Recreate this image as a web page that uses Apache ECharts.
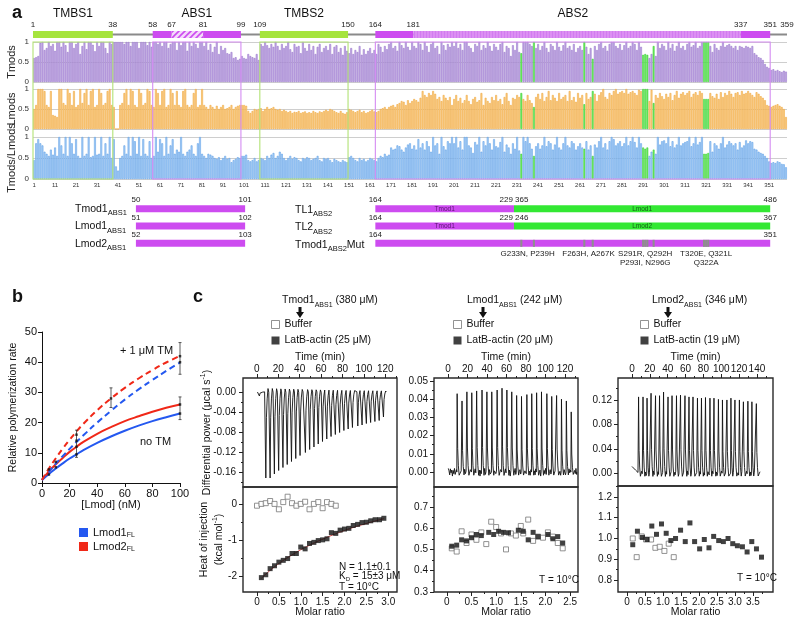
<!DOCTYPE html>
<html><head><meta charset="utf-8">
<script src="https://cdn.jsdelivr.net/npm/echarts@6/dist/echarts.min.js"></script>
<style>html,body{margin:0;padding:0;background:#fff}#chart{width:800px;height:624px}</style>
</head><body><div id="chart"></div>
<script>
// ---------------- Panel a data ----------------
const residues = Array.from({length: 359}, (_, i) => i + 1);
const tmods = [
.6,.62,.65,.98,1,.8,.85,1,.9,.95,.78,1,1,.88,1,.92,.75,1,1,.85,
.95,1,.7,.9,1,.82,1,1,.93,.77,1,.9,1,1,.85,.72,1,.95,1,1,
1,1,1,.95,1,1,.9,1,1,1,.85,1,1,1,.92,1,.88,1,1,.95,
1,.9,1,1,.85,.95,1,1,.8,1,.92,1,1,.78,1,.9,1,.95,.85,1,
1,.9,1,.8,.95,.75,.88,1,.7,.9,.8,.85,.72,.7,.75,.6,.62,.55,.58,.65,
.6,.58,.7,.65,.62,.6,.7,.55,.95,.9,1,.92,.85,.95,.88,1,.9,.8,.95,.85,
.9,1,.82,.75,.95,.88,.9,.72,1,.85,.78,.95,.8,.9,.7,.88,.95,.75,.85,.9,
.8,.95,.7,.88,.92,.75,.85,.68,.9,.78,.72,.85,.7,.8,.75,.9,.68,.82,.7,.78,
.85,.72,.8,.7,.95,.88,.75,.9,.82,.95,1,.85,.9,.78,1,.92,.85,1,.88,.8,
1,.9,.85,1,.95,.8,1,.9,.75,.95,1,.85,.9,.7,1,.92,.8,.95,.88,1,
.9,1,.85,.95,.8,1,1,.9,.85,.75,.95,.9,1,.8,.92,.85,1,.9,.78,.95,
.88,.8,.95,1,.75,.9,.85,.65,.92,.8,1,.75,.72,1,1,1,.95,.9,1,.85,
.95,.8,.9,1,.85,.75,.95,.9,.8,1,.88,.78,.92,1,.85,.9,.8,.95,.75,.85,
.9,.8,1,.88,.7,.85,.58,.9,.8,.95,1,.85,.9,.78,.95,1,1,.9,.85,.95,
.8,.92,1,.85,.9,1,.95,.8,1,.88,.68,.7,.68,.6,.7,.9,.65,1,.85,.95,
.9,.8,1,.85,.95,.78,.9,1,.85,.9,.8,.95,1,.88,.92,1,.85,.9,1,1,
1,1,.9,.75,.95,.85,.8,.9,1,.88,.92,.95,.9,.85,.9,.8,.9,.88,.85,.9,
.88,.85,.9,.72,.68,.62,.6,.55,.45,.38,.35,.3,.32,.28,.3,.27,.25,.28,.26];
const lmods = [
.5,.6,1,1,1,.95,.6,.55,.95,.35,.33,.3,1,1,.65,.6,1,.9,.6,.95,
.55,.6,1,.65,.9,1,.6,.95,1,.55,.6,1,.9,.6,.65,.95,1,.6,.55,0,
0,.6,.65,.9,1,.6,1,.95,.6,.55,1,.9,.6,.65,1,.95,.6,.55,1,.9,
.6,.95,1,.55,.6,1,.9,.6,.95,.6,.55,.95,1,.6,.55,.6,.9,1,.55,.6,
1,.6,.55,.5,.6,.55,.5,.58,.5,.55,.6,.5,.52,.55,.6,.5,.55,.58,.6,.6,
.6,.58,.45,.4,.45,.5,.48,.5,.52,.45,.5,.55,.5,.52,.55,.5,.48,.5,.45,.48,
.45,.42,.45,.4,.43,.42,.45,.4,.42,.44,.4,.42,.4,.45,.42,.4,.44,.42,.45,.48,
.45,.5,.48,.45,.42,.4,.45,.4,.38,.42,.5,.48,.45,.42,.45,.48,.42,.45,.4,.42,
.45,.48,.44,.42,.45,.5,.52,.55,.5,.55,.58,.6,.55,.62,.65,.7,.68,.6,.72,.65,
.7,.75,.72,.68,.78,.95,.85,.8,.9,.85,.95,.88,.75,.8,.7,.85,.78,.72,.8,.6,
.75,.85,.7,.78,.65,.72,.85,.7,.62,.75,.8,.68,.72,.9,.6,.78,.7,.65,.8,.72,
.85,.7,.75,.62,.8,.9,.7,.6,.78,.75,.85,.8,.9,.75,.7,.85,.72,.65,.55,.8,
.88,.75,.9,.7,.8,.95,.72,.85,.78,.7,.9,.75,.8,.85,.7,.95,.72,.8,.68,.9,
.78,.85,.62,.9,.75,.8,.95,.88,.7,.85,.92,1,.8,.75,.9,.85,.95,1,.88,.92,
.95,.9,1,.88,.92,.95,.9,.85,.98,.95,1,1,1,.7,.98,.65,.85,.78,.9,.82,
.75,.88,.8,.9,.72,.85,.95,.78,.88,.92,.85,.9,.95,.8,.88,.92,.85,.95,.9,.75,
.75,.75,.9,.82,.78,.88,.75,.92,.8,.9,.85,.95,.88,.8,.9,.92,.85,.95,.88,.9,
.95,.9,.85,.8,.92,.88,.82,.78,.72,.6,.58,.55,.58,.6,.62,.58,.55,.5,.3];
const tmodsOverLmods = [
.45,.85,.95,.85,.8,.65,.6,.55,.7,.58,.75,.55,1,.8,.6,1,.55,1,.85,.6,
.95,.55,.5,1,.55,.6,1,.52,.55,1,.58,.6,1,.55,.85,.6,1,.5,.95,.3,
.2,.5,.55,.8,.6,1,.55,1,.9,.6,1,.55,.95,.6,.55,.9,.5,.55,1,.65,
.95,.85,.55,1,.6,.8,.95,.6,.7,.65,1,.6,.55,.65,.7,.8,.6,.55,.85,1,
.6,.55,.5,.6,.58,.55,.5,.48,.52,.45,.5,.55,.48,.5,.4,.45,.48,.52,.5,.55,
.55,.58,.45,.42,.45,.5,.42,.45,.5,.48,.45,.55,.5,.58,.62,.5,.55,.65,.6,.5,
.45,.5,.55,.48,.52,.5,.45,.42,.5,.48,.52,.5,.45,.48,.5,.55,.45,.42,.5,.48,
.5,.45,.4,.48,.45,.42,.4,.45,.42,.4,.52,.55,.5,.45,.42,.5,.45,.48,.42,.45,
.5,.48,.45,.42,.5,.55,.52,.6,.55,.58,.75,.7,.72,.8,.78,.7,.65,.75,.82,.85,
.72,.8,.7,.95,.75,.85,.7,.9,.78,.65,1,.8,.85,.6,1,.78,.7,.9,.85,1,
.85,1,.75,.9,.7,1,1,.8,.75,.62,.88,.82,1,.65,.9,.8,1,.85,.7,.95,
.78,.75,.88,1,.65,.82,.75,.6,.85,.72,1,.68,.6,1,.9,1,.85,.72,.55,.78,
.85,.72,.8,1,.78,.9,.85,.7,.82,1,.75,.7,.85,1,.8,.75,.9,.85,.7,.78,
.85,.75,.72,.9,.7,.8,.55,.82,.75,.9,1,.75,.85,.7,.9,1,.95,.8,.85,.9,
.78,.85,1,.8,.9,1,.88,.75,1,.85,.75,.72,.75,.55,.65,.7,.6,1,.82,.9,
.92,.85,1,.78,.9,.75,.82,1,.8,.85,.88,.9,1,.78,.85,1,.82,.88,1,.6,
.6,.62,.9,.65,.85,.8,.72,.85,1,.75,.82,.9,.85,.8,.85,.7,.88,.75,.8,.92,
.85,.9,.88,.72,.7,.65,.62,.6,.55,.5,.42,.38,.4,.38,.42,.4,.36,.35,.28];
const mutatedResidues = [233,239,263,267,291,292,293,296,320,321,322];

const proteinLength = 359;
const domainNames = ['TMBS1','ABS1','TMBS2','ABS2'];
const domainStart = [1,58,109,164];
const domainEnd = [38,99,150,351];
const domainKind = ['tmbs','abs','tmbs','abs'];
const hatchRange = [67,81];
const lightRange = [182,337];
const boundaryLabels = [1,38,58,67,81,99,109,150,164,181,337,351,359];
const boundaryIsStart = [1,0,1,1,0,0,1,0,1,0,0,0,0];

const leftConstructNames = ['Tmod1','Lmod1','Lmod2'];
const leftConstructStart = [50,51,52];
const leftConstructEnd = [101,102,103];
const leftAlignRange = [50,101];
const rightConstructNames = ['TL1','TL2','Tmod1'];
const rightConstructSuffix = ['','','Mut'];
const abs2Range = [164,351];
const chimeraJunction = 229;
const chimeraPartner = ['Lmod1','Lmod2'];
const chimeraPartnerStart = [365,246];
const chimeraPartnerEnd = [486,367];
const mutationLabels = ['G233N, P239H','F263H, A267K','S291R, Q292H\nP293I, N296G','T320E, Q321L\nQ322A'];
const mutationLabelCenter = [236,265,292,321];

// ---------------- Panel b data ----------------
const lmodConc = [0,5,10,15,20,25,30,40,50,60,70,80,90,100];
const lmod1NoTM = [1,3.0,4.8,6.5,8.1,9.5,10.9,13.3,15.4,17.3,19.0,20.5,21.8,23.0];
const lmod2NoTM = [1,3.8,6.2,8.3,10.3,12.0,13.6,16.3,18.5,20.5,22.1,23.6,24.9,26.0];
const lmod1TM = [1,3.7,6.4,8.9,11.3,13.6,15.8,20.0,23.9,27.6,31.0,34.1,37.1,39.9];
const lmod2TM = [1,4.8,8.2,11.4,14.3,17.1,19.6,24.1,28.0,31.5,34.6,37.4,39.9,42.1];
const pointX = [5,5,10,10,25,25,25,25,50,100,100,100,100];
const pointY = [4.5,2.8,7,5.2,16,14,12,9.5,28,42,40,26,23];
const errX = [25,50,100,100];
const errLow = [8.5,25,36,21];
const errHigh = [17.5,31.5,46.5,28.5];

// ---------------- Panel c data ----------------
const injTime1 = [2,8,12,16,20,24,28,32,36,40,45,49,53,57,61,65,69,73,77,81,85,89,94,98,102,106,110,114,118];
const injPeak1 = [-0.008,-0.172,-0.172,-0.164,-0.157,-0.151,-0.145,-0.139,-0.133,-0.127,-0.121,-0.115,-0.11,-0.104,-0.099,-0.094,-0.089,-0.085,-0.081,-0.077,-0.074,-0.071,-0.068,-0.066,-0.063,-0.061,-0.059,-0.057,-0.05];
const injTime2 = [9,14,19,24,29,34.5,39.5,44.5,50,55,60,65,70,75,80.5,85.5,90.5,95.5,101,106,111,116,121,126];
const injPeak2 = [0.043,0.039,0.044,0.0435,0.0445,0.045,0.044,0.044,0.045,0.046,0.045,0.044,0.042,0.0415,0.0425,0.043,0.0435,0.044,0.043,0.0415,0.042,0.040,0.039,0.033];
const injTime3 = [7,12,16.5,21,26,30.5,35,40,44.5,49.5,54,59,63.5,68,73,77.5,82,87,91.5,96.5,101,106,110.5,115,120,124.5,129.5,134,139];
const injPeak3 = [0.125,0.125,0.123,0.131,0.127,0.127,0.133,0.125,0.127,0.127,0.128,0.127,0.125,0.125,0.123,0.123,0.124,0.123,0.123,0.121,0.12,0.12,0.123,0.12,0.12,0.117,0.118,0.117,0.114];
const traceStart1 = [[0.5,0]];
const traceStart2 = [[0.3,0.002]];
const traceStart3 = [[0,0.011],[2,0.009],[4,0.005],[6,0.002]];
const baselineWiggle = [0.3,-0.7,0.8,-0.2,0.5,-1,0.4,-0.4,0.9,-0.6,0.1,0.6,-0.5,-0.9,0.3,0.7,-0.4,0.2,-0.8,0.6];

const heatRatio1 = [0.1,0.2,0.3,0.4,0.5,0.6,0.7,0.8,0.9,1.0,1.1,1.2,1.3,1.4,1.5,1.6,1.7,1.8,1.9,2.0,2.1,2.2,2.3,2.4,2.5,2.6,2.7,2.8,2.9];
const heatActin1 = [-2.05,-1.97,-1.8,-1.72,-1.62,-1.57,-1.52,-1.38,-1.38,-1.2,-1.25,-1.1,-1.07,-1.02,-1.0,-0.97,-0.8,-0.82,-0.73,-0.7,-0.68,-0.6,-0.57,-0.52,-0.51,-0.47,-0.44,-0.44,-0.4];
const bufRatio1 = [0,0.1,0.2,0.3,0.4,0.5,0.6,0.7,0.8,0.9,1.0,1.1,1.2,1.3,1.4,1.5,1.6,1.7,1.8];
const heatBuffer1 = [-0.05,0.0,0.02,0.08,0.0,-0.15,0.05,0.2,0.02,-0.05,0.0,0.06,-0.15,0.0,0.05,-0.12,0.05,0.0,-0.05];
const fitRatio1 = [0.1,0.4,0.8,1.2,1.6,2.0,2.4,2.9];
const fitHeat1 = [-2.07,-1.75,-1.42,-1.15,-0.93,-0.74,-0.58,-0.41];

const heatRatio2 = [0.1,0.2,0.3,0.4,0.5,0.6,0.7,0.85,0.95,1.05,1.15,1.25,1.45,1.55,1.65,1.75,1.85,2.05,2.15,2.25,2.35];
const heatActin2 = [0.515,0.52,0.545,0.54,0.555,0.57,0.565,0.58,0.57,0.585,0.58,0.578,0.59,0.585,0.545,0.58,0.56,0.57,0.55,0.56,0.53];
const bufRatio2 = [0.1,0.2,0.3,0.4,0.5,0.6,0.7,0.8,0.9,1.0,1.1,1.2,1.3,1.4,1.5,1.55,1.65,1.75,1.85,1.95,2.05,2.15,2.25,2.35];
const heatBuffer2 = [0.505,0.49,0.585,0.53,0.57,0.545,0.58,0.525,0.63,0.605,0.575,0.5,0.575,0.565,0.61,0.575,0.64,0.54,0.56,0.555,0.58,0.56,0.53,0.505];

const heatRatio3 = [0.16,0.29,0.43,0.56,0.69,0.82,0.96,1.09,1.22,1.35,1.49,1.62,1.75,1.88,2.02,2.15,2.28,2.41,2.55,2.68,2.81,2.94,3.07,3.21,3.34,3.47,3.6,3.74];
const heatActin3 = [0.97,1.035,1.005,0.995,1.06,1.02,1.07,1.025,0.99,1.0,1.04,0.985,1.075,0.985,0.95,0.995,0.955,1.01,0.99,0.985,1.0,0.975,0.965,0.96,0.935,0.985,0.95,0.91];
const bufRatio3 = [0.16,0.27,0.41,0.53,0.67,0.79,0.91,1.04,1.16,1.3];
const heatBuffer3 = [1.0,0.91,1.01,0.995,0.995,0.955,0.96,0.94,0.975,0.91];

const timeTicks1 = [0,20,40,60,80,100,120], timeMinor1 = [10,30,50,70,90,110,130];
const timeTicks3 = [0,20,40,60,80,100,120,140], timeMinor3 = [10,30,50,70,90,110,130,150];
const powerTicks1 = [0,-0.04,-0.08,-0.12,-0.16], powerMinor1 = [-0.02,-0.06,-0.1,-0.14,-0.18];
const powerTicks2 = [0,0.01,0.02,0.03,0.04,0.05], powerMinor2 = [0.005,0.015,0.025,0.035,0.045];
const powerTicks3 = [0,0.04,0.08,0.12], powerMinor3 = [0.02,0.06,0.1,0.14];
const ratioTicks1 = [0,0.5,1,1.5,2,2.5,3], ratioMinor1 = [0.25,0.75,1.25,1.75,2.25,2.75];
const ratioTicks2 = [0,0.5,1,1.5,2,2.5], ratioMinor2 = [0.25,0.75,1.25,1.75,2.25];
const ratioTicks3 = [0,0.5,1,1.5,2,2.5,3,3.5], ratioMinor3 = [0.25,0.75,1.25,1.75,2.25,2.75,3.25,3.75];
const heatTicks1 = [0,-1,-2], heatMinor1 = [-0.5,-1.5];
const heatTicks2 = [0.3,0.4,0.5,0.6,0.7], heatMinor2 = [0.35,0.45,0.55,0.65,0.75];
const heatTicks3 = [0.8,0.9,1.0,1.1,1.2], heatMinor3 = [0.85,0.95,1.05,1.15,1.25];

// ---------------- helpers ----------------
const FONT = '"Liberation Sans", Arial, Helvetica, sans-serif';
const MAG = '#cd4cf0', MAG_LIGHT = '#dc8ff3', TMBS_GREEN = '#a6e43e', CON_GREEN = '#33e833', MUT_GREY = '#8e8e8e';
const BLUE = '#2458f0', RED = '#f02818';

function makePattern(kind) {
  const c = document.createElement('canvas');
  const g = c.getContext('2d');
  if (kind === 'hatch') {
    c.width = 6; c.height = 6;
    g.fillStyle = '#f4d9fb'; g.fillRect(0, 0, 6, 6);
    g.strokeStyle = MAG; g.lineWidth = 1.6;
    g.beginPath(); g.moveTo(-1, 7); g.lineTo(7, -1); g.moveTo(-1, 1); g.lineTo(1, -1); g.moveTo(5, 7); g.lineTo(7, 5); g.stroke();
  } else {
    c.width = 3; c.height = 3;
    g.fillStyle = MAG_LIGHT; g.fillRect(0, 0, 3, 3);
    g.fillStyle = '#d27cf0'; g.fillRect(0, 0, 1, 3);
  }
  return {type: 'pattern', image: c, repeat: 'repeat'};
}
const HATCH = makePattern('hatch'), STRIPE = makePattern('stripe');

function barData(values) {
  return values.map((v, i) => mutatedResidues.indexOf(i + 1) >= 0
    ? {value: v, itemStyle: {color: '#70ee5c', borderColor: '#3fd13f'}} : v);
}

function buildTrace(startPts, times, peaks, tEnd, amp) {
  const pts = startPts.map(p => p.slice());
  let t0 = pts[pts.length - 1][0], k = 0;
  const wig = (a, b) => { for (let x = a + 0.7; x < b; x += 0.7) pts.push([x, baselineWiggle[k++ % baselineWiggle.length] * amp]); };
  times.forEach((t, i) => {
    wig(t0, t - 0.2);
    const p = peaks[i];
    pts.push([t, 0], [t + 0.35, p], [t + 0.9, p * 0.3], [t + 1.6, p * 0.08], [t + 2.4, -p * 0.04]);
    t0 = t + 2.4;
  });
  wig(t0, tEnd);
  pts.push([tEnd, 0]);
  return pts;
}
const zip = (a, b) => a.map((v, i) => [v, b[i]]);

function txt(x, y, text, o) {
  return {type: 'text', x: x, y: y, silent: true, style: Object.assign({
    text: text, fontSize: 11, fontFamily: FONT, fill: '#111',
    textAlign: 'left', textVerticalAlign: 'middle', align: 'left', verticalAlign: 'middle'}, o || {})};
}
const subRich = (m, s, lh) => ({
  m: {fontSize: m, fontFamily: FONT, fill: '#111', color: '#111', lineHeight: lh || m + 6, verticalAlign: 'middle'},
  s: {fontSize: s, fontFamily: FONT, fill: '#111', color: '#111', lineHeight: s, verticalAlign: 'bottom'}
});
const supRich = (m, s) => ({
  a: {fontSize: m, fontFamily: FONT, color: '#111', lineHeight: m + 4, verticalAlign: 'middle'},
  b: {fontSize: s, fontFamily: FONT, color: '#111', lineHeight: s, verticalAlign: 'top'}
});

// ITC axes
function itcAxes(grid, pos, min, max, major, minor, fmt, name, nameGap, margin, nameStyle) {
  const base = {gridIndex: grid, type: 'value', position: pos, min: min, max: max,
    axisLine: {show: false, onZero: false}, splitLine: {show: false}, nameMoveOverlap: false};
  return [
    Object.assign({}, base, {
      axisTick: {show: true, length: 4, lineStyle: {color: '#222', width: 1}, customValues: major},
      axisLabel: {show: true, customValues: major, formatter: fmt, fontSize: 10, color: '#111', fontFamily: FONT, margin: margin},
      name: name || '', nameLocation: 'middle', nameGap: nameGap || 15,
      nameTextStyle: nameStyle || {fontSize: 11, color: '#111', fontFamily: FONT}
    }),
    Object.assign({}, base, {
      axisTick: {show: true, length: 2, lineStyle: {color: '#222', width: 1}, customValues: minor},
      axisLabel: {show: false, customValues: minor}
    })
  ];
}
const f0 = v => String(v);
const f1 = v => v === 0 ? '0' : v.toFixed(1);
const f1b = v => v.toFixed(1);
const f2 = v => v.toFixed(2);

// ---------------- grids ----------------
const frame = {show: true, borderColor: '#2a2a2a', borderWidth: 1.4, backgroundColor: 'transparent'};
const grids = [
  {left: 33, width: 754, top: 42, height: 40},
  {left: 33, width: 754, top: 89, height: 40},
  {left: 33, width: 754, top: 137, height: 42},
  {left: 33, width: 754, top: 31, height: 7},
  {left: 33, width: 754, top: 42, height: 137},
  {left: 33, width: 754, top: 200, height: 52},
  {left: 42, width: 138, top: 332, height: 151},
  Object.assign({left: 243, width: 154, top: 378, height: 109}, frame),
  Object.assign({left: 243, width: 154, top: 487, height: 105}, frame),
  Object.assign({left: 434, width: 144, top: 378, height: 109}, frame),
  Object.assign({left: 434, width: 144, top: 487, height: 105}, frame),
  Object.assign({left: 618, width: 155, top: 378, height: 108}, frame),
  Object.assign({left: 618, width: 155, top: 486, height: 106}, frame)
].map(g => Object.assign({containLabel: false, outerBoundsMode: 'none'}, g));

// ---------------- axes ----------------
const xAxes = [], yAxes = [];
const aNames = ['Tmods', 'Lmods', 'Tmods/Lmods'];
for (let i = 0; i < 3; i++) {
  xAxes.push({gridIndex: i, type: 'category', data: residues, boundaryGap: true,
    axisLine: {show: false}, axisTick: {show: false},
    axisLabel: {show: i === 2, interval: (idx) => idx % 10 === 0, fontSize: 6, margin: 3, color: '#333', fontFamily: FONT}});
  yAxes.push({gridIndex: i, type: 'value', min: 0, max: 1, interval: 0.5,
    axisLine: {show: false}, axisTick: {show: false},
    axisLabel: {fontSize: 8, margin: 4, color: '#333', fontFamily: FONT, formatter: v => String(v)},
    splitLine: {lineStyle: {color: '#c2c2c2', width: 0.8}}, nameMoveOverlap: false,
    name: aNames[i], nameLocation: 'middle', nameGap: 16, nameTextStyle: {fontSize: 11, color: '#222', fontFamily: FONT}});
}
for (let g = 3; g <= 5; g++) {
  xAxes.push({gridIndex: g, type: 'value', min: 0, max: proteinLength, show: false});
}
yAxes.push({gridIndex: 3, type: 'value', min: 0, max: 1, show: false});
yAxes.push({gridIndex: 4, type: 'value', min: 0, max: 1, show: false});
yAxes.push({gridIndex: 5, type: 'category', data: ['r0', 'r1', 'r2'], inverse: true, show: false});
// panel b
xAxes.push({gridIndex: 6, type: 'value', min: 0, max: 100, interval: 20, nameMoveOverlap: false,
  axisLine: {lineStyle: {color: '#111', width: 1}}, axisTick: {length: 4, lineStyle: {color: '#111'}},
  axisLabel: {fontSize: 11, color: '#111', fontFamily: FONT, margin: 5}, splitLine: {show: false},
  name: '[Lmod] (nM)', nameLocation: 'middle', nameGap: 16, nameTextStyle: {fontSize: 11, color: '#111', fontFamily: FONT}});
yAxes.push({gridIndex: 6, type: 'value', min: 0, max: 50, interval: 10, nameMoveOverlap: false,
  axisLine: {show: true, lineStyle: {color: '#111', width: 1}}, axisTick: {show: true, length: 4, lineStyle: {color: '#111'}},
  axisLabel: {fontSize: 11, color: '#111', fontFamily: FONT, margin: 5}, splitLine: {show: false},
  name: 'Relative polymerization rate', nameLocation: 'middle', nameGap: 23, nameTextStyle: {fontSize: 10.5, color: '#111', fontFamily: FONT}});
// panel c
const nameTop = {fontSize: 10.5, color: '#111', fontFamily: FONT};
xAxes.push(...itcAxes(7, 'top', -13, 131, timeTicks1, timeMinor1, f0, 'Time (min)', 15, 4, nameTop));
xAxes.push(...itcAxes(8, 'bottom', -0.32, 3.2, ratioTicks1, ratioMinor1, f1, 'Molar ratio', 15, 5, nameTop));
xAxes.push(...itcAxes(9, 'top', -14.4, 133.3, timeTicks1, timeMinor1, f0, 'Time (min)', 15, 4, nameTop));
xAxes.push(...itcAxes(10, 'bottom', -0.26, 2.66, ratioTicks2, ratioMinor2, f1, 'Molar ratio', 15, 5, nameTop));
xAxes.push(...itcAxes(11, 'top', -15.7, 158, timeTicks3, timeMinor3, f0, 'Time (min)', 15, 4, nameTop));
xAxes.push(...itcAxes(12, 'bottom', -0.25, 4.06, ratioTicks3, ratioMinor3, f1, 'Molar ratio', 15, 5, nameTop));
const yNameStyle = {fontSize: 10.5, color: '#111', fontFamily: FONT, rich: supRich(10.5, 7)};
yAxes.push(...itcAxes(7, 'left', -0.19, 0.028, powerTicks1, powerMinor1, f2, '{a|Differential power (μcal s}{b|-1}{a|)}', 29, 7, yNameStyle));
yAxes.push(...itcAxes(8, 'left', -2.45, 0.47, heatTicks1, heatMinor1, f0, '{a|Heat of injection}\n{a|(kcal mol}{b|-1}{a|)}', 17, 6, yNameStyle));
yAxes.push(...itcAxes(9, 'left', -0.0082, 0.0516, powerTicks2, powerMinor2, f2, '', 0, 6));
yAxes.push(...itcAxes(10, 'left', 0.3, 0.793, heatTicks2, heatMinor2, f1b, '', 0, 6));
yAxes.push(...itcAxes(11, 'left', -0.021, 0.156, powerTicks3, powerMinor3, f2, '', 0, 6));
yAxes.push(...itcAxes(12, 'left', 0.742, 1.253, heatTicks3, heatMinor3, f1b, '', 0, 6));

// ---------------- derived geometry data ----------------
const domainSegs = [];
domainStart.forEach((s, i) => {
  const e = domainEnd[i];
  if (domainKind[i] === 'tmbs') { domainSegs.push([s - 1, e, 0]); return; }
  let sub = null;
  if (hatchRange[0] >= s && hatchRange[1] <= e) sub = [hatchRange[0] - 1, hatchRange[1], 2];
  else if (lightRange[0] >= s && lightRange[1] <= e) sub = [lightRange[0] - 1, lightRange[1], 3];
  if (sub) domainSegs.push([s - 1, sub[0], 1], sub, [sub[1], e, 1]);
  else domainSegs.push([s - 1, e, 1]);
});
const segFill = [TMBS_GREEN, MAG, HATCH, STRIPE];
const boundaryData = boundaryLabels.map((r, i) => [boundaryIsStart[i] ? r - 1 : r, r]);
const domainNameData = domainStart.map((s, i) => [(s - 1 + domainEnd[i]) / 2, i]);
const outlineData = domainStart.map((s, i) => [s - 1, domainEnd[i], domainKind[i] === 'tmbs' ? 0 : 1]);

const constructSegs = [];
leftConstructNames.forEach((n, i) => constructSegs.push([leftAlignRange[0] - 1, leftAlignRange[1], i, 1]));
chimeraPartner.forEach((p, i) => {
  constructSegs.push([abs2Range[0] - 1, chimeraJunction, i, 1]);
  constructSegs.push([chimeraJunction, abs2Range[1], i, 4]);
});
constructSegs.push([abs2Range[0] - 1, abs2Range[1], 2, 1]);
mutatedResidues.forEach(r => constructSegs.push([r - 1, r, 2, 5]));
const conFill = {1: MAG, 4: CON_GREEN, 5: MUT_GREY};

const conNumLabels = [];
leftConstructNames.forEach((n, i) => {
  conNumLabels.push({x: leftAlignRange[0] - 1, row: i, text: String(leftConstructStart[i])});
  conNumLabels.push({x: leftAlignRange[1], row: i, text: String(leftConstructEnd[i])});
});
chimeraPartner.forEach((p, i) => {
  conNumLabels.push({x: abs2Range[0] - 1, row: i, text: String(abs2Range[0])});
  conNumLabels.push({x: chimeraJunction, row: i, text: chimeraJunction + ' ' + chimeraPartnerStart[i]});
  conNumLabels.push({x: abs2Range[1], row: i, text: String(chimeraPartnerEnd[i])});
});
conNumLabels.push({x: abs2Range[0] - 1, row: 2, text: String(abs2Range[0])});
conNumLabels.push({x: abs2Range[1], row: 2, text: String(abs2Range[1])});

const innerLabels = [];
chimeraPartner.forEach((p, i) => {
  innerLabels.push({x: (abs2Range[0] - 1 + chimeraJunction) / 2, row: i, text: 'Tmod1', color: '#5a1470'});
  innerLabels.push({x: (chimeraJunction + abs2Range[1]) / 2, row: i, text: p, color: '#17601a'});
});

// ---------------- series ----------------
const series = [];
const barStyles = [['#c6aee6', '#9a78cc'], ['#fbd08e', '#f0a83c'], ['#b3d5fa', '#5e9fe6']];
[tmods, lmods, tmodsOverLmods].forEach((vals, i) => {
  series.push({type: 'bar', xAxisIndex: i, yAxisIndex: i, data: barData(vals), barCategoryGap: '12%', silent: true,
    itemStyle: {color: barStyles[i][0], borderColor: barStyles[i][1], borderWidth: 0.6}});
});
series.push({type: 'custom', xAxisIndex: 3, yAxisIndex: 3, silent: true, data: [[0, proteinLength]],
  renderItem: (p, api) => {
    const a = api.coord([api.value(0), 0.5]), b = api.coord([api.value(1), 0.5]);
    return {type: 'line', shape: {x1: a[0], y1: a[1], x2: b[0], y2: b[1]}, style: {stroke: '#8a8a8a', lineWidth: 2}};
  }});
series.push({type: 'custom', xAxisIndex: 3, yAxisIndex: 3, silent: true, data: domainSegs, z: 3,
  renderItem: (p, api) => {
    const a = api.coord([api.value(0), 1]), b = api.coord([api.value(1), 0]);
    return {type: 'rect', shape: {x: a[0], y: a[1], width: b[0] - a[0], height: b[1] - a[1]}, style: {fill: segFill[api.value(2)]}};
  }});
series.push({type: 'custom', xAxisIndex: 3, yAxisIndex: 3, silent: true, data: boundaryData, z: 4,
  renderItem: (p, api) => {
    const a = api.coord([api.value(0), 1]);
    return {type: 'text', x: a[0], y: a[1] - 2, style: {text: String(api.value(1)), fontSize: 8, fontFamily: FONT, fill: '#222',
      align: 'center', verticalAlign: 'bottom', textAlign: 'center', textVerticalAlign: 'bottom'}};
  }});
series.push({type: 'custom', xAxisIndex: 3, yAxisIndex: 3, silent: true, data: domainNameData, z: 4,
  renderItem: (p, api) => {
    const a = api.coord([api.value(0), 1]);
    return {type: 'text', x: a[0], y: a[1] - 11, style: {text: domainNames[api.value(1)], fontSize: 12, fontFamily: FONT, fill: '#111',
      align: 'center', verticalAlign: 'bottom', textAlign: 'center', textVerticalAlign: 'bottom'}};
  }});
series.push({type: 'custom', xAxisIndex: 4, yAxisIndex: 4, silent: true, data: outlineData, z: 6,
  renderItem: (p, api) => {
    const a = api.coord([api.value(0), 1]), b = api.coord([api.value(1), 0]);
    return {type: 'rect', shape: {x: a[0], y: a[1], width: b[0] - a[0], height: b[1] - a[1]},
      style: {fill: 'none', stroke: api.value(2) === 0 ? '#b2e275' : '#d58cf2', lineWidth: 1.1}};
  }});
series.push({type: 'custom', xAxisIndex: 5, yAxisIndex: 5, silent: true, data: constructSegs, z: 3,
  renderItem: (p, api) => {
    const a = api.coord([api.value(0), api.value(2)]), b = api.coord([api.value(1), api.value(2)]);
    return {type: 'rect', shape: {x: a[0], y: a[1] - 3.5, width: b[0] - a[0], height: 7}, style: {fill: conFill[api.value(3)]}};
  }});
series.push({type: 'custom', xAxisIndex: 5, yAxisIndex: 5, silent: true, data: conNumLabels.map(o => [o.x, o.row]), z: 4,
  renderItem: (p, api) => {
    const a = api.coord([api.value(0), api.value(1)]);
    return {type: 'text', x: a[0], y: a[1] - 4.5, style: {text: conNumLabels[p.dataIndex].text, fontSize: 8, fontFamily: FONT, fill: '#222',
      align: 'center', verticalAlign: 'bottom', textAlign: 'center', textVerticalAlign: 'bottom'}};
  }});
series.push({type: 'custom', xAxisIndex: 5, yAxisIndex: 5, silent: true, data: innerLabels.map(o => [o.x, o.row]), z: 5,
  renderItem: (p, api) => {
    const a = api.coord([api.value(0), api.value(1)]);
    const o = innerLabels[p.dataIndex];
    return {type: 'text', x: a[0], y: a[1] + 0.5, style: {text: o.text, fontSize: 6.5, fontFamily: FONT, fill: o.color,
      align: 'center', verticalAlign: 'middle', textAlign: 'center', textVerticalAlign: 'middle'}};
  }});
series.push({type: 'custom', xAxisIndex: 5, yAxisIndex: 5, silent: true, data: mutationLabelCenter.map(c => [c - 0.5, 2]), z: 4,
  renderItem: (p, api) => {
    const a = api.coord([api.value(0), api.value(1)]);
    return {type: 'text', x: a[0], y: a[1] + 5.5, style: {text: mutationLabels[p.dataIndex], fontSize: 8, lineHeight: 9.5, fontFamily: FONT, fill: '#222',
      align: 'center', verticalAlign: 'top', textAlign: 'center', textVerticalAlign: 'top'}};
  }});
// panel b
const fitLine = (name, vals, color, dashed) => ({type: 'line', name: name, xAxisIndex: 6, yAxisIndex: 6, data: zip(lmodConc, vals),
  smooth: 0.4, showSymbol: false, silent: true, itemStyle: {color: color},
  lineStyle: {color: color, width: 2, type: dashed ? [6, 4] : 'solid'}});
series.push(fitLine('Lmod1', lmod1NoTM, BLUE, false));
series.push(fitLine('Lmod2', lmod2NoTM, RED, false));
series.push(fitLine('Lmod1', lmod1TM, BLUE, true));
series.push(fitLine('Lmod2', lmod2TM, RED, true));
series.push({type: 'custom', xAxisIndex: 6, yAxisIndex: 6, silent: true, z: 5,
  data: errX.map((x, i) => [x, errLow[i], errHigh[i]]),
  renderItem: (p, api) => {
    const lo = api.coord([api.value(0), api.value(1)]), hi = api.coord([api.value(0), api.value(2)]);
    const st = {stroke: '#333', lineWidth: 0.8};
    return {type: 'group', children: [
      {type: 'line', shape: {x1: lo[0], y1: lo[1], x2: hi[0], y2: hi[1]}, style: st},
      {type: 'line', shape: {x1: lo[0] - 1.5, y1: lo[1], x2: lo[0] + 1.5, y2: lo[1]}, style: st},
      {type: 'line', shape: {x1: hi[0] - 1.5, y1: hi[1], x2: hi[0] + 1.5, y2: hi[1]}, style: st}]};
  }});
series.push({type: 'scatter', xAxisIndex: 6, yAxisIndex: 6, silent: true, z: 6, data: zip(pointX, pointY),
  symbol: 'rect', symbolSize: 2.5, itemStyle: {color: '#111'}});
// panel c
const traceSeries = (xi, yi, data) => ({type: 'line', xAxisIndex: xi, yAxisIndex: yi, data: data, showSymbol: false,
  silent: true, lineStyle: {color: '#111', width: 0.9}, itemStyle: {color: '#111'}});
series.push(traceSeries(7, 7, buildTrace(traceStart1, injTime1, injPeak1, 121, 0.0006)));
series.push(traceSeries(11, 11, buildTrace(traceStart2, injTime2, injPeak2, 132, 0.0022)));
series.push(traceSeries(15, 15, buildTrace(traceStart3, injTime3, injPeak3, 144, 0.004)));
const openSq = {color: '#fff', borderColor: '#777', borderWidth: 1};
const scat = (name, xi, yi, xs, ys, style) => ({type: 'scatter', name: name, xAxisIndex: xi, yAxisIndex: yi, data: zip(xs, ys),
  symbol: 'rect', symbolSize: 5, silent: true, itemStyle: style, z: 4});
series.push({type: 'line', xAxisIndex: 9, yAxisIndex: 9, data: zip(fitRatio1, fitHeat1), smooth: true, showSymbol: false,
  silent: true, lineStyle: {color: '#e05050', width: 1}, z: 3});
series.push(scat('Buffer', 9, 9, bufRatio1, heatBuffer1, openSq));
series.push(scat('LatB-actin (25 μM)', 9, 9, heatRatio1, heatActin1, {color: '#111'}));
series.push(scat('Buffer', 13, 13, bufRatio2, heatBuffer2, openSq));
series.push(scat('LatB-actin (20 μM)', 13, 13, heatRatio2, heatActin2, {color: '#111'}));
series.push(scat('Buffer', 17, 17, bufRatio3, heatBuffer3, openSq));
series.push(scat('LatB-actin (19 μM)', 17, 17, heatRatio3, heatActin3, {color: '#111'}));

// ---------------- legends ----------------
const legendBase = {orient: 'vertical', itemWidth: 8, itemHeight: 8, itemGap: 3, selectedMode: false, padding: 0,
  textStyle: {fontSize: 10.5, color: '#111', fontFamily: FONT, lineHeight: 13}};
const mkLegend = (left, conc) => Object.assign({}, legendBase, {left: left, top: 318,
  data: [{name: 'Buffer', icon: 'rect', itemStyle: openSq}, {name: 'LatB-actin (' + conc + ' μM)', icon: 'rect', itemStyle: {color: '#111'}}]});
const legends = [
  {orient: 'vertical', left: 79, top: 527, itemWidth: 9, itemHeight: 9, itemGap: 2, selectedMode: false, icon: 'rect', padding: 0,
    data: ['Lmod1', 'Lmod2'], formatter: n => '{m|' + n + '}{s|FL}',
    textStyle: {fontSize: 11, color: '#111', fontFamily: FONT, rich: subRich(11, 7, 13)}},
  mkLegend(271, 25), mkLegend(453, 20), mkLegend(640, 19)
];

// ---------------- annotations ----------------
const arrow = (x, y) => ({type: 'polygon', silent: true,
  shape: {points: [[x - 1.5, y - 6], [x + 1.5, y - 6], [x + 1.5, y - 1], [x + 4, y - 1], [x, y + 5], [x - 4, y - 1], [x - 1.5, y - 1]]},
  style: {fill: '#111'}});
const graphics = [
  txt(12, 13, 'a', {fontSize: 18, fontWeight: 'bold'}),
  txt(12, 297, 'b', {fontSize: 18, fontWeight: 'bold'}),
  txt(193, 297, 'c', {fontSize: 18, fontWeight: 'bold'}),
  txt(120, 351, '+ 1 μM TM', {fontSize: 11}),
  txt(140, 442, 'no TM', {fontSize: 11}),
  txt(282, 300, '{m|Tmod1}{s|ABS1}{m| (380 μM)}', {rich: subRich(10.5, 7)}),
  txt(467, 300, '{m|Lmod1}{s|ABS1}{m| (242 μM)}', {rich: subRich(10.5, 7)}),
  txt(652, 300, '{m|Lmod2}{s|ABS1}{m| (346 μM)}', {rich: subRich(10.5, 7)}),
  arrow(300, 313), arrow(483, 313), arrow(668, 313),
  txt(339, 567, 'N = 1.1±0.1', {fontSize: 10}),
  txt(339, 576.5, '{m|K}{s|D}{m| = 15±3 μM}', {rich: subRich(10, 6, 12)}),
  txt(339, 587, 'T = 10°C', {fontSize: 10}),
  txt(539, 580, 'T = 10°C', {fontSize: 10}),
  txt(737, 578, 'T = 10°C', {fontSize: 10})
];
leftConstructNames.forEach((n, i) => graphics.push(txt(75, 209 + i * 17.5, '{m|' + n + '}{s|ABS1}', {rich: subRich(10.5, 7.5)})));
rightConstructNames.forEach((n, i) => graphics.push(txt(295, 210 + i * 17.5, '{m|' + n + '}{s|ABS2}' + (rightConstructSuffix[i] ? '{m|' + rightConstructSuffix[i] + '}' : ''), {rich: subRich(10.5, 7.5)})));

const chart = echarts.init(document.getElementById('chart'), null, {renderer: 'canvas'});
chart.setOption({
  animation: false,
  backgroundColor: '#fff',
  textStyle: {fontFamily: FONT},
  grid: grids, xAxis: xAxes, yAxis: yAxes, series: series, legend: legends,
  graphic: {elements: graphics}
});
</script></body></html>
